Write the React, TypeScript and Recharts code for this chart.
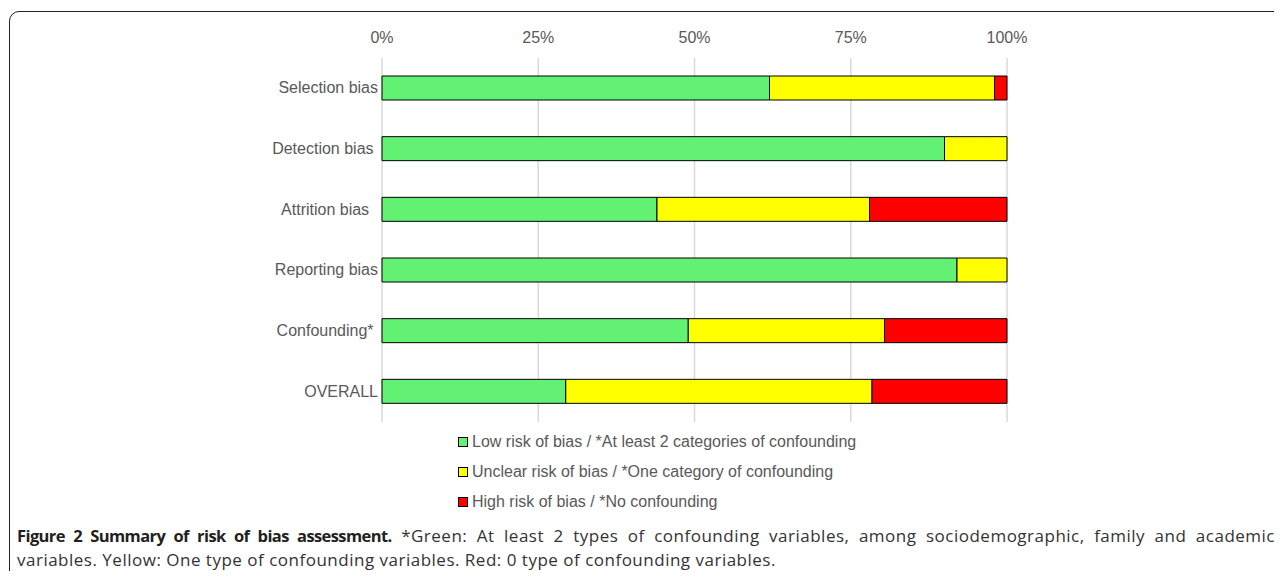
import React from "react";
import { BarChart, Bar, XAxis, YAxis, CartesianGrid } from "recharts";

const categories = ["Selection bias", "Detection bias ", "Attrition bias  ", "Reporting bias", "Confounding* ", "OVERALL"];
const lowRisk = [62, 90, 44, 92, 49, 29.4];
const unclearRisk = [36, 10, 34, 8, 31.4, 49];
const highRisk = [2, 0, 22, 0, 19.6, 21.6];
const xTicks = [0, 25, 50, 75, 100];

const seriesNames = [
  "Low risk of bias / *At least 2 categories of confounding",
  "Unclear risk of bias / *One category of confounding",
  "High risk of bias / *No confounding",
];
const seriesColors = ["#62F172", "#FFFF00", "#FF0000"];

const data = categories.map((c, i) => ({
  name: c,
  low: lowRisk[i],
  unclear: unclearRisk[i],
  high: highRisk[i],
}));

const FONT = "'Liberation Sans', Arial, sans-serif";
const TEXT = "#595959";

const YTick = (props: any) => {
  const { x, y, payload } = props;
  return (
    <text x={x} y={y} dx={6} dy={5} textAnchor="end" fill={TEXT} fontSize={16} fontFamily={FONT} style={{ whiteSpace: "pre" }}>
      {payload.value}
    </text>
  );
};

const LegendBlock = () => (
  <div style={{ position: "absolute", left: 458, top: 427, fontFamily: FONT, fontSize: 16, color: TEXT }}>
    {seriesNames.map((n, i) => (
      <div key={n} style={{ height: 30, display: "flex", alignItems: "center" }}>
        <span
          style={{
            display: "inline-block",
            width: 8,
            height: 8,
            background: seriesColors[i],
            border: "1px solid #000",
            marginRight: 4,
          }}
        />
        <span>{n}</span>
      </div>
    ))}
  </div>
);

export default function App() {
  return (
    <div style={{ position: "relative", width: 1282, height: 579, margin: -8, overflow: "hidden", background: "#fff" }}>
      <div
        style={{
          position: "absolute",
          left: 9,
          top: 11,
          width: 1320,
          height: 574,
          border: "1.5px solid #222",
          borderRadius: 10,
          boxSizing: "border-box",
        }}
      />
      <div style={{ position: "absolute", left: 0, top: 0 }}>
        <BarChart
          width={1282}
          height={579}
          data={data}
          layout="vertical"
          margin={{ top: 28, right: 275, bottom: 157, left: 0 }}
          barSize={24}
        >
          <CartesianGrid horizontal={false} stroke="#d9d9d9" strokeWidth={1.5} />
          <XAxis
            type="number"
            orientation="top"
            domain={[0, 100]}
            ticks={xTicks}
            tickFormatter={(v: number) => `${v}%`}
            axisLine={false}
            tickLine={false}
            height={30}
            tickMargin={9}
            tick={{ fill: TEXT, fontSize: 16, fontFamily: FONT }}
            interval={0}
          />
          <YAxis
            type="category"
            dataKey="name"
            width={382}
            axisLine={false}
            tickLine={false}
            tick={<YTick />}
            tickMargin={4}
            interval={0}
          />
          <Bar dataKey="low" stackId="a" fill={seriesColors[0]} stroke="#000" strokeWidth={1} isAnimationActive={false} name={seriesNames[0]} />
          <Bar dataKey="unclear" stackId="a" fill={seriesColors[1]} stroke="#000" strokeWidth={1} isAnimationActive={false} name={seriesNames[1]} />
          <Bar dataKey="high" stackId="a" fill={seriesColors[2]} stroke="#000" strokeWidth={1} isAnimationActive={false} name={seriesNames[2]} />
        </BarChart>
      </div>
      <LegendBlock />
      <div
        style={{
          position: "absolute",
          left: 17,
          top: 524,
          width: 1258,
          fontFamily: "'Open Sans', sans-serif",
          fontSize: 17,
          lineHeight: "24px",
          color: "#333",
          letterSpacing: 0.5,
        }}
      >
        <div style={{ textAlign: "justify", textAlignLast: "justify", whiteSpace: "nowrap" as any }}>
          <span style={{ fontWeight: 700, color: "#231f20", fontSize: 16.5, letterSpacing: -0.6 }}>
            Figure 2 Summary of risk of bias assessment.
          </span>{" "}
          *Green: At least 2 types of confounding variables, among sociodemographic, family and academic
        </div>
        <div>variables. Yellow: One type of confounding variables. Red: 0 type of confounding variables.</div>
      </div>
    </div>
  );
}
